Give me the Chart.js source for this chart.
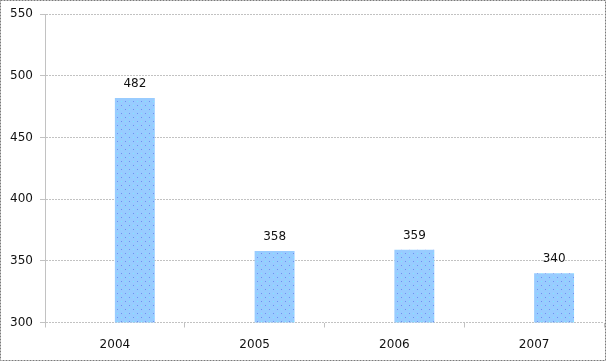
<!DOCTYPE html>
<html>
<head>
<meta charset="utf-8">
<script src="https://cdn.jsdelivr.net/npm/chart.js@4"></script>
<style>
  html, body { margin: 0; padding: 0; background: #fff; }
  #wrap { width: 606px; height: 361px; position: relative; }
</style>
</head>
<body>
<div id="wrap"><canvas id="chart"></canvas></div>
<script>
// chart data
const years = ['2004', '2005', '2006', '2007'];
const counts = [482, 358, 359, 340];
const emptySeries = [null, null, null, null]; // first slot of each cluster is blank
const yTicks = [300, 350, 400, 450, 500, 550];

const gridGrey = '#c2c2c2';
const textColor = '#111';

// light blue fill with little dots, like the office pattern fill
function dotPattern() {
    const c = document.createElement('canvas');
    c.width = 8; c.height = 8;
    const g = c.getContext('2d');
    g.fillStyle = '#99ccff';
    g.fillRect(0, 0, 8, 8);
    g.fillStyle = '#6f8ff0';
    g.fillRect(1, 1, 1, 1);
    g.fillRect(5, 5, 1, 1);
    g.fillStyle = '#7fe8ff';
    g.fillRect(5, 1, 1, 1);
    g.fillRect(1, 5, 1, 1);
    return g.createPattern(c, 'repeat');
}

// value labels above the bars + dashed frame round the picture
const extras = {
    id: 'extras',
    afterDatasetsDraw(chart) {
        const ctx = chart.ctx;
        const meta = chart.getDatasetMeta(1);
        ctx.save();
        ctx.font = '12px "DejaVu Sans"';
        ctx.fillStyle = textColor;
        ctx.textAlign = 'center';
        ctx.textBaseline = 'middle';
        meta.data.forEach((bar, i) => {
            ctx.fillText(String(counts[i]), bar.x, bar.y - 14);
        });
        ctx.restore();
    },
    afterDraw(chart) {
        const ctx = chart.ctx;
        ctx.save();
        ctx.strokeStyle = '#7a7a7a';
        ctx.lineWidth = 1;
        ctx.setLineDash([2, 1]);
        ctx.strokeRect(0.5, 0.5, chart.width - 1, chart.height - 1);
        ctx.restore();
    }
};

new Chart(document.getElementById('chart').getContext('2d'), {
    type: 'bar',
    data: {
        labels: years,
        datasets: [
            { data: emptySeries, backgroundColor: 'transparent' },
            {
                data: counts,
                backgroundColor: dotPattern(),
                borderWidth: 0
            }
        ]
    },
    plugins: [extras],
    options: {
        responsive: true,
        maintainAspectRatio: false,
        animation: false,
        categoryPercentage: 80 / 140,
        barPercentage: 1,
        layout: { padding: { top: 9, right: 2, left: 0, bottom: 0 } },
        plugins: {
            legend: { display: false },
            tooltip: { enabled: false }
        },
        scales: {
            x: {
                grid: {
                    drawOnChartArea: false,
                    drawTicks: true,
                    tickLength: 5,
                    color: gridGrey
                },
                border: { display: false },
                ticks: {
                    color: textColor,
                    padding: 10,
                    font: { family: 'DejaVu Sans', size: 12 }
                },
                afterFit(scale) { scale.height = 38.5; }
            },
            y: {
                min: 300,
                max: 550,
                afterBuildTicks(scale) {
                    scale.ticks = yTicks.map(v => ({ value: v }));
                },
                grid: {
                    color: gridGrey,
                    tickLength: 5,
                    tickColor: gridGrey
                },
                border: { color: gridGrey, dash: [2, 1] },
                ticks: {
                    color: textColor,
                    padding: 7,
                    font: { family: 'DejaVu Sans', size: 12 }
                },
                afterFit(scale) { scale.width = 45; }
            }
        }
    }
});
</script>
</body>
</html>
